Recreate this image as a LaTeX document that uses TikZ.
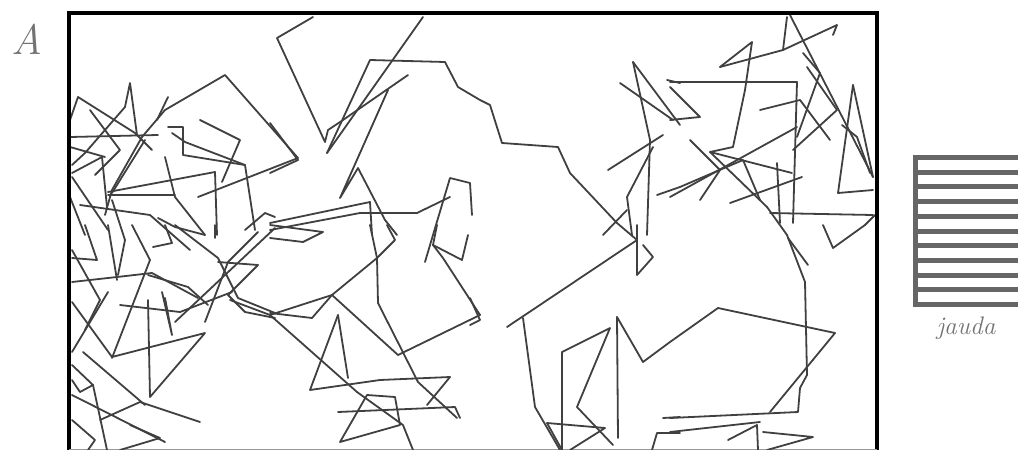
\documentclass[tikz,border=0pt]{standalone}
\begin{document}
\begin{tikzpicture}[x=0.75pt,y=-0.75pt,
  walk/.style={draw=black!75,line width=1.35pt,line join=round,line cap=round},
  frame/.style={draw=black,line width=3pt},
  band/.style={fill=black!60},
  lbl/.style={text=black!55,inner sep=0pt}]
\useasboundingbox (0,0) rectangle (1018,450);
% frame
\draw[frame] (69,451) -- (69,13) -- (877,13) -- (877,451);
\draw[black!40,line width=0.6pt] (69,449) -- (877,449);
% label A
\node[lbl,font=\fontsize{32}{36}\selectfont\itshape] (A) at (27,39) {A};
% striped power box
\fill[band] (913,155) rectangle (918,307);
\foreach \i in {0,...,10} \fill[band] (913,{155+14.7*\i}) rectangle (1018,{160+14.7*\i});
\node[lbl,font=\fontsize{19}{22}\selectfont\itshape] (jauda) at (966,328) {jauda};
% ---- random walk ----
\begin{scope}
\clip (71,15) rectangle (875,449);
% left top cluster
\draw[walk] (70,120) -- (78,97) -- (135,133) -- (152,150);
\draw[walk] (137,135) -- (130,83) -- (125,107) -- (105,130) -- (85,153) -- (72,165);
\draw[walk] (70,137) -- (158,135);
\draw[walk] (298,158) -- (225,75) -- (165,110) -- (142,137) -- (112,190) -- (105,215);
\draw[walk] (168,97) -- (157,120);
\draw[walk] (168,127) -- (183,127) -- (183,155) -- (245,165) -- (255,230);
\draw[walk] (172,133) -- (185,142) -- (245,165);
\draw[walk] (298,158) -- (198,197);
\draw[walk] (165,157) -- (175,197) -- (205,235);
\draw[walk] (108,192) -- (215,172) -- (217,235);
\draw[walk] (108,195) -- (175,195);
\draw[walk] (70,147) -- (105,157);
\draw[walk] (72,173) -- (102,157) -- (107,207);
\draw[walk] (72,177) -- (108,230);
\draw[walk] (70,197) -- (85,235);
\draw[walk] (112,193) -- (145,140);
\draw[walk] (158,218) -- (175,227) -- (205,235);
\draw[walk] (245,230) -- (265,213) -- (275,217);
\draw[walk] (112,200) -- (125,240) -- (118,275);
\draw[walk] (90,110) -- (120,150) -- (95,175);
\draw[walk] (200,120) -- (240,140) -- (222,182);
\draw[walk] (80,205) -- (150,215) -- (190,250);
% left bottom cluster
\draw[walk] (85,225) -- (97,260) -- (72,258);
\draw[walk] (108,225) -- (117,280);
\draw[walk] (132,225) -- (150,260) -- (112,358);
\draw[walk] (165,225) -- (172,243) -- (153,247);
\draw[walk] (72,282) -- (117,277) -- (152,273) -- (198,298);
\draw[walk] (72,302) -- (112,357);
\draw[walk] (72,352) -- (108,292);
\draw[walk] (148,300) -- (150,397) -- (205,333) -- (112,357);
\draw[walk] (83,352) -- (145,405);
\draw[walk] (72,395) -- (165,442);
\draw[walk] (93,385) -- (107,450);
\draw[walk] (72,365) -- (93,385) -- (80,392) -- (72,380);
\draw[walk] (162,292) -- (172,335) -- (165,298);
\draw[walk] (175,322) -- (275,228);
\draw[walk] (205,322) -- (228,262) -- (258,232);
\draw[walk] (228,295) -- (245,312) -- (275,318);
\draw[walk] (148,275) -- (188,287) -- (208,305);
\draw[walk] (215,225) -- (215,238);
\draw[walk] (175,225) -- (218,258) -- (238,298) -- (275,313);
\draw[walk] (218,262) -- (258,265) -- (228,295);
\draw[walk] (72,420) -- (95,440) -- (88,450);
\draw[walk] (120,450) -- (160,438) -- (130,425);
\draw[walk] (72,250) -- (100,300) -- (85,330);
\draw[walk] (120,305) -- (180,312) -- (232,292);
\draw[walk] (100,420) -- (140,402) -- (200,422);
% middle
\draw[walk] (270,238) -- (303,242) -- (323,232) -- (270,225);
\draw[walk] (370,225) -- (377,258) -- (378,303) -- (418,382) -- (457,418);
\draw[walk] (387,225) -- (395,240) -- (377,258) -- (332,295);
\draw[walk] (332,295) -- (270,315) -- (230,300);
\draw[walk] (332,295) -- (312,318) -- (270,313);
\draw[walk] (332,295) -- (398,355) -- (480,315) -- (443,258) -- (433,245) -- (437,225);
\draw[walk] (433,245) -- (462,260) -- (468,235);
\draw[walk] (270,315) -- (357,392) -- (403,425) -- (413,450);
\draw[walk] (338,315) -- (310,390) -- (380,380) -- (450,377);
\draw[walk] (338,315) -- (348,378);
\draw[walk] (338,412) -- (455,407) -- (460,418);
\draw[walk] (340,442) -- (367,395) -- (395,397) -- (400,425) -- (340,442);
\draw[walk] (450,377) -- (427,405);
\draw[walk] (313,17) -- (277,38) -- (325,142) -- (328,130) -- (343,120) -- (408,75);
\draw[walk] (423,17) -- (327,153);
\draw[walk] (327,153) -- (370,60) -- (445,62) -- (458,87) -- (480,100) -- (490,105)
   -- (502,143) -- (558,147) -- (570,173) -- (617,223) -- (637,240);
\draw[walk] (388,90) -- (340,198) -- (358,168) -- (385,220) -- (397,235);
\draw[walk] (270,123) -- (298,160) -- (270,173);
\draw[walk] (472,215) -- (470,183) -- (450,178) -- (433,235) -- (425,262);
\draw[walk] (270,223) -- (370,202) -- (372,235);
\draw[walk] (270,230) -- (360,213) -- (417,213) -- (450,197);
\draw[walk] (470,298) -- (480,320) -- (470,325);
% upper right cluster
\draw[walk] (633,62) -- (650,140) -- (647,235);
\draw[walk] (633,62) -- (680,125);
\draw[walk] (620,83) -- (673,120);
\draw[walk] (608,170) -- (663,135);
\draw[walk] (653,147) -- (627,197) -- (632,235);
\draw[walk] (667,80) -- (680,83);
\draw[walk] (657,195) -- (680,187);
\draw[walk] (603,235) -- (627,210);
\draw[walk] (670,82) -- (797,82) -- (793,223);
\draw[walk] (720,67) -- (752,42) -- (745,90) -- (733,147) -- (710,152) -- (792,173);
\draw[walk] (787,17) -- (783,50);
\draw[walk] (720,67) -- (783,50) -- (837,25) -- (833,35);
\draw[walk] (790,15) -- (873,177);
\draw[walk] (803,53) -- (820,73) -- (797,137);
\draw[walk] (807,67) -- (837,110) -- (793,150);
\draw[walk] (853,85) -- (838,193) -- (873,190);
\draw[walk] (842,125) -- (857,137) -- (870,173);
\draw[walk] (853,85) -- (873,177);
\draw[walk] (670,197) -- (797,127);
\draw[walk] (670,120) -- (700,117) -- (670,87);
\draw[walk] (730,203) -- (802,177);
\draw[walk] (770,213) -- (873,215);
\draw[walk] (777,163) -- (780,223);
\draw[walk] (710,152) -- (767,207) -- (787,235) -- (805,282) -- (807,375) -- (800,388)
   -- (798,412) -- (670,418);
\draw[walk] (680,187) -- (743,160) -- (760,200);
\draw[walk] (823,225) -- (833,248) -- (865,225) -- (875,215);
\draw[walk] (788,238) -- (808,265);
\draw[walk] (690,140) -- (720,170) -- (700,200);
\draw[walk] (760,110) -- (800,100) -- (830,140);
% lower right
\draw[walk] (637,240) -- (507,327);
\draw[walk] (523,318) -- (535,407) -- (560,450);
\draw[walk] (547,423) -- (605,428) -- (570,450);
\draw[walk] (547,423) -- (562,450);
\draw[walk] (562,450) -- (562,352) -- (610,328) -- (577,407) -- (613,445);
\draw[walk] (617,317) -- (618,438);
\draw[walk] (617,317) -- (643,362) -- (670,342) -- (718,308) -- (835,333) -- (770,412);
\draw[walk] (637,225) -- (637,275) -- (653,257) -- (643,245);
\draw[walk] (652,450) -- (657,433) -- (680,433);
\draw[walk] (663,418) -- (680,417);
\draw[walk] (670,432) -- (760,422);
\draw[walk] (728,440) -- (757,425) -- (758,450);
\draw[walk] (763,432) -- (813,437) -- (767,450);
\end{scope}
\end{tikzpicture}
\end{document}
